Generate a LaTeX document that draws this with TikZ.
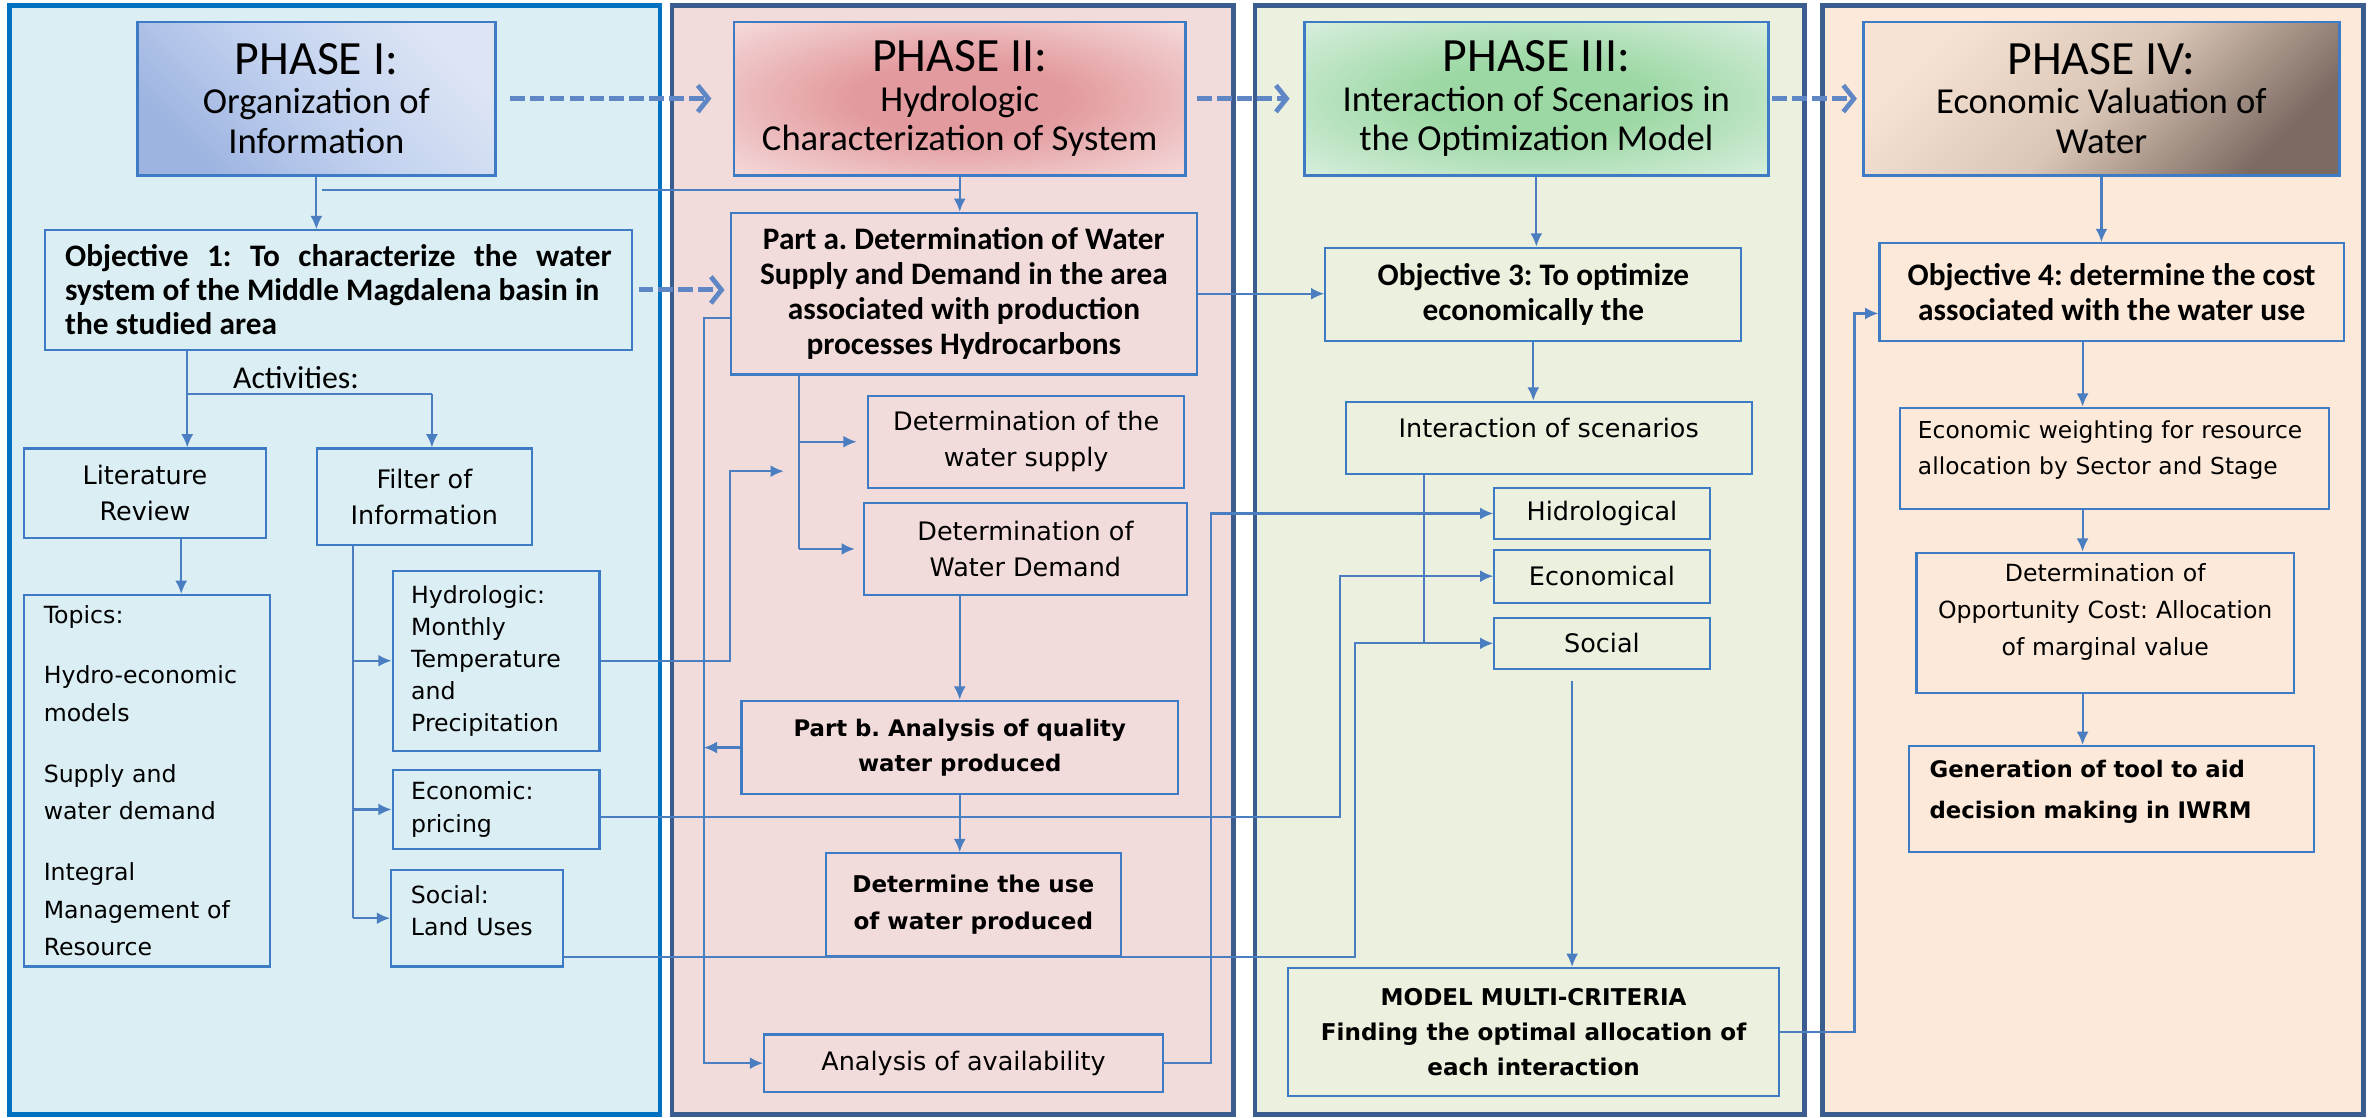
\documentclass[tikz,border=0pt]{standalone}
\usepackage{fontspec}
\setmainfont{Carlito}
\newfontfamily\verd{DejaVu Sans}
\usepackage{xcolor}
\usetikzlibrary{arrows.meta}
\frenchspacing

\definecolor{bgone}{HTML}{DAEEF3}
\definecolor{bgtwo}{HTML}{F2DCDB}
\definecolor{bgthree}{HTML}{EBF1DE}
\definecolor{bgfour}{HTML}{FDE9D9}
\definecolor{edgeone}{HTML}{0070C0}
\definecolor{edgedark}{HTML}{3B5C8E}
\definecolor{boxblue}{HTML}{3D7CC4}
\definecolor{wireblue}{HTML}{4A7EC0}
\definecolor{dashblue}{HTML}{5F87C5}
\definecolor{oneLight}{HTML}{DDE5F5}
\definecolor{oneMid}{HTML}{C3D2EF}
\definecolor{oneDark}{HTML}{9DB4E1}
\definecolor{twoCore}{HTML}{E39A9E}
\definecolor{twoPale}{HTML}{F5DCDC}
\definecolor{threeCore}{HTML}{9CD8A4}
\definecolor{threePale}{HTML}{D9EFDF}
\definecolor{fourLight}{HTML}{F6E3D3}
\definecolor{fourMid}{HTML}{DAC6B6}
\definecolor{fourDark}{HTML}{7B6A62}

\pgfdeclareradialshading{redglow}{\pgfpoint{0bp}{0bp}}{color(0bp)=(twoCore); color(12bp)=(twoCore); color(36bp)=(twoPale); color(50bp)=(twoPale)}
\pgfdeclareradialshading{greenglow}{\pgfpoint{0bp}{0bp}}{color(0bp)=(threeCore); color(12bp)=(threeCore); color(36bp)=(threePale); color(50bp)=(threePale)}

% invisible depth, lifts the text of a box
\newcommand{\sink}[1]{\rule[-#1]{0pt}{#1}}

\begin{document}
\begin{tikzpicture}[x=0.02cm, y=-0.02cm,
    dims/.style 2 args={minimum width=#1*0.02cm, minimum height=#2*0.02cm},
    box/.style={draw=boxblue, line width=0.8pt, inner sep=0pt, align=center},
    phasebox/.style={box, line width=1pt, font=\fontsize{13.8}{15}\selectfont},
    goal/.style={box, font=\fontsize{11.8}{13.2}\selectfont\bfseries},
    task/.style={box, font=\verd\fontsize{9.6}{13.7}\selectfont},
    small/.style={box, font=\verd\fontsize{8.9}{12.1}\selectfont},
    strong/.style={box, font=\verd\fontsize{8.7}{13.3}\selectfont\bfseries},
    wire/.style={draw=wireblue, line width=0.8pt},
    conn/.style={wire, -{Latex[length=5pt,width=4.5pt]}},
    jump/.style={draw=dashblue, line width=1.9pt, dash pattern=on 5.5pt off 2pt,
                 -{Straight Barb[length=4pt,width=10pt,line width=1.8pt]}}]

    \useasboundingbox (0,0) rectangle (1568,740);
    \fill[white] (0,0) rectangle (1568,740);

    % Phase panels
    \draw[edgeone, line width=1.8pt, fill=bgone] (6.5,3.5) rectangle (437,738);
    \draw[edgedark, line width=1.8pt, fill=bgtwo] (445,3.5) rectangle (817,738);
    \draw[edgedark, line width=1.8pt, fill=bgthree] (831,3.5) rectangle (1195,738);
    \draw[edgedark, line width=1.8pt, fill=bgfour] (1207,3.5) rectangle (1565,738);

    % Guide lines for the connectors
    \coordinate (gLit) at (120,0);
    \coordinate (gFilt) at (234,0);
    \coordinate (gLeft) at (466,0);
    \coordinate (gPa) at (529,0);
    \coordinate (gAv) at (802,0);
    \coordinate (gEc) at (887,0);
    \coordinate (gSo) at (897,0);
    \coordinate (gInt) at (943,0);
    \coordinate (gSoc) at (1041,0);
    \coordinate (gMod) at (1228,0);
    \coordinate (gIV) at (1379,0);

    % Phase I
    \node[phasebox, dims={237}{101.4}, top color=oneLight, bottom color=oneDark, middle color=oneMid, shading angle=-45] (ph1) at (209.5,65.3) {{\fontsize{18}{18}\selectfont PHASE I:}\\Organization of\\Information};
    \node[goal, dims={389}{79}, text width=206pt, align=justify, font=\fontsize{11.8}{12.8}\selectfont\bfseries] (obj1) at (224.1,192) {Objective 1: To characterize the water\linebreak system of the Middle Magdalena basin in\\the studied area};
    \node[font=\fontsize{12}{14}\selectfont] (acts) at (196,250) {Activities:};
    \node[task, dims={160}{59}] (lit) at (96,326.5) {Literature\\Review};
    \node[task, dims={142}{64}] (filt) at (281,329) {Filter of\\Information};
    \node[small, dims={163}{246}, text width=78pt, align=left, font=\verd\fontsize{8.9}{14.2}\selectfont] (topics) at (97.5,517) {Topics:\\[8.6pt]Hydro-economic\\models\\[8.6pt]Supply and\\water demand\\[8.6pt]Integral\\Management of\\Resource};
    \node[small, dims={137}{119}, text width=64pt, align=left] (hydro) at (328.5,437.5) {Hydrologic:\\Monthly\\Temperature\\and\\Precipitation};
    \node[small, dims={137}{52}, text width=64pt, align=left] (econ) at (328.5,536) {Economic:\\pricing};
    \node[small, dims={114}{64}, text width=50pt, align=left] (social) at (316,608) {Social:\\Land Uses\sink{5.6pt}};

    % Phase II
    \node[phasebox, dims={299}{101.4}, shade, shading=redglow] (ph2) at (635.5,65.3) {{\fontsize{18}{18}\selectfont PHASE II:}\\Hydrologic\\Characterization of System};
    \node[goal, dims={308.5}{107}] (parta) at (638.25,194.5) {Part a. Determination of Water\\Supply and Demand in the area\\associated with production\\processes Hydrocarbons};
    \node[task, dims={209}{61}] (supply) at (679.5,292.5) {Determination of the\\water supply};
    \node[task, dims={214}{61}] (demand) at (679,363.5) {Determination of\\Water Demand};
    \node[strong, dims={289}{62}, font=\verd\fontsize{8.6}{13.1}\selectfont\bfseries] (partb) at (635.5,495) {Part b. Analysis of quality\\water produced};
    \node[strong, dims={195}{68}, font=\verd\fontsize{8.7}{14.2}\selectfont\bfseries] (use) at (644.5,599) {Determine the use\\of water produced};
    \node[task, dims={264}{38}] (avail) at (638,704) {Analysis of availability};

    % Phase III
    \node[phasebox, dims={307.4}{101.4}, shade, shading=greenglow] (ph3) at (1017.3,65.3) {{\fontsize{18}{18}\selectfont PHASE III:}\\Interaction of Scenarios in\\the Optimization Model};
    \node[goal, dims={275.4}{62}] (obj3) at (1015.3,195) {Objective 3: To optimize\\economically the};
    \node[task, dims={269}{48}] (inter) at (1025.5,290) {Interaction of scenarios\sink{8pt}};
    \node[task, dims={142.5}{34}] (hidro) at (1060.75,340) {Hidrological};
    \node[task, dims={142.5}{35}] (econo) at (1060.75,381.5) {Economical};
    \node[task, dims={142.5}{34}] (soci) at (1060.75,426) {Social};
    \node[strong, dims={325}{85}] (model) at (1015.5,683.5) {MODEL MULTI-CRITERIA\\Finding the optimal allocation of\\each interaction};

    % Phase IV
    \node[phasebox, dims={315}{101.4}, top color=fourLight, bottom color=fourDark, middle color=fourMid, shading angle=45] (ph4) at (1391.5,65.3) {{\fontsize{18}{18}\selectfont PHASE IV:}\\Economic Valuation of\\Water};
    \node[goal, dims={307.5}{65}] (obj4) at (1398.25,193.5) {Objective 4: determine the cost\\associated with the water use};
    \node[small, dims={284}{67}, text width=148pt, align=left, font=\verd\fontsize{8.8}{13.7}\selectfont] (weight) at (1400,303.5) {Economic weighting for resource\\allocation by Sector and Stage\sink{8.1pt}};
    \node[small, dims={250}{93}, text width=136pt, font=\verd\fontsize{8.9}{14}\selectfont] (opp) at (1394,412.5) {Determination of\\Opportunity Cost: Allocation\\of marginal value\sink{10.1pt}};
    \node[strong, dims={268}{70}, text width=137pt, align=left, font=\verd\fontsize{8.6}{15.4}\selectfont\bfseries] (gen) at (1398,529) {Generation of tool to aid\\decision making in IWRM\sink{7.3pt}};

    % Dashed arrows between phases
    \draw[jump, shorten <=5pt, shorten >=8pt] (ph1.east) -- (ph1.east -| ph2.west);
    \draw[jump, shorten <=4pt, shorten >=5pt] (ph2.east) -- (ph2.east -| ph3.west);
    \draw[jump, shorten <=1pt, shorten >=2pt] (ph3.east) -- (ph3.east -| ph4.west);
    \draw[jump, shorten <=2pt, shorten >=2pt] (obj1.east) -- (obj1.east -| parta.west);

    % Phase I arrows
    \coordinate (pj) at (213,126);
    \coordinate (act) at (124,261);
    \coordinate (actr) at (286,261);
    \draw[conn] (ph1.south) -- (ph1.south |- obj1.north);
    \draw[wire] (pj) -- (pj -| ph2.south);
    \draw[wire] (act |- obj1.south) -- (act) -- (actr);
    \draw[conn] (act) -- (act |- lit.north);
    \draw[conn] (actr) -- (actr |- filt.north);
    \draw[conn] (lit.south -| gLit) -- (topics.north -| gLit);
    \draw[wire] (filt.south -| gFilt) -- (social.west -| gFilt);
    \draw[conn] (hydro.west -| gFilt) -- (hydro.west);
    \draw[conn] (econ.west -| gFilt) -- (econ.west);
    \draw[conn] (social.west -| gFilt) -- (social.west);

    % Phase II arrows
    \coordinate (hin) at (519,312);
    \draw[conn] (ph2.south) -- (ph2.south |- parta.north);
    \draw[conn] (hydro.east) -- (hydro.east -| parta.west) |- (hin);
    \draw[wire] (parta.south -| gPa) -- (demand.west -| gPa);
    \draw[conn, shorten >=4pt] (supply.west -| gPa) -- (supply.west);
    \draw[conn, shorten >=3pt] (demand.west -| gPa) -- (demand.west);
    \draw[conn] (demand.south -| partb.north) -- (partb.north);
    \draw[conn] (partb.south) -- (partb.south |- use.north);
    \draw[conn] ([yshift=-9pt]parta.west) -| (gLeft |- avail.west) -- (avail.west);
    \draw[conn] (partb.west) -- (partb.west -| gLeft);
    \draw[conn] (parta.east) -- (parta.east -| obj3.west);

    % Phase III arrows
    \draw[conn] (ph3.south) -- (ph3.south |- obj3.north);
    \draw[conn] (obj3.south) -- (obj3.south |- inter.north);
    \draw[wire] (inter.south -| gInt) -- (soci.west -| gInt);
    \draw[conn] (avail.east) -| (gAv |- hidro.west) -- (hidro.west);
    \draw[conn] ([yshift=-3pt]econ.east) -| (gEc |- econo.west) -- (econo.west);
    \draw[conn] ([yshift=4pt]social.south east) -| (gSo |- soci.west) -- (soci.west);
    \draw[conn, shorten <=4pt] (soci.south -| gSoc) -- (model.north -| gSoc);

    % Phase IV arrows
    \coordinate (oin) at ([yshift=-8pt]obj4.west);
    \draw[conn] (model.east) -| (gMod |- oin) -- (oin);
    \draw[conn] (ph4.south) -- (ph4.south |- obj4.north);
    \draw[conn] (obj4.south -| gIV) -- (weight.north -| gIV);
    \draw[conn] (weight.south -| gIV) -- (opp.north -| gIV);
    \draw[conn] (opp.south -| gIV) -- (gen.north -| gIV);
\end{tikzpicture}
\end{document}
